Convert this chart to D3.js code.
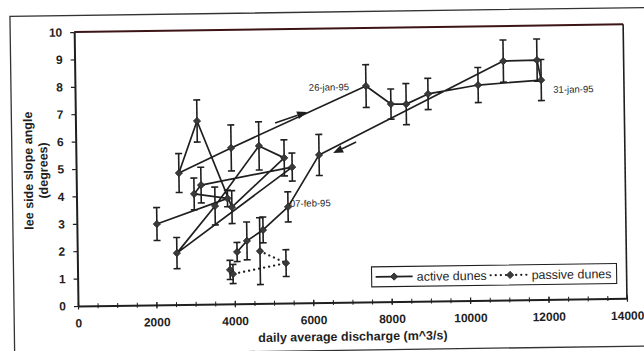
<!DOCTYPE html>
<html>
<head>
<meta charset="utf-8">
<script src="https://cdn.jsdelivr.net/npm/d3@7"></script>
<style>
  html, body { margin: 0; padding: 0; background: #fff; }
  svg { display: block; }
  text { font-family: "Liberation Sans", Arial, sans-serif; }
</style>
</head>
<body>
<svg id="chart" width="644" height="351"></svg>
<script>
// Active dunes, in measurement order: discharge (m^3/s), lee side angle and error (degrees)
const activeDischarge = [2040, 3850, 3000, 3180, 5510, 2540, 3530, 4670, 5310, 3960, 3100, 2620, 3960,
                         7420, 8050, 8440, 9000, 10280, 11890, 11790, 10930, 6200, 5390, 4745, 4330, 4075];
const activeAngle = [2.95, 3.85, 4.03, 4.35, 4.96, 1.88, 3.58, 5.75, 5.30, 3.53, 6.69, 4.80, 5.69,
                     7.88, 7.21, 7.20, 7.56, 7.86, 8.01, 8.74, 8.72, 5.39, 3.51, 2.68, 2.29, 1.89];
const activeError = [0.60, 0.30, 0.58, 0.65, 0.51, 0.57, 0.69, 0.88, 0.66, 0.60, 0.77, 0.71, 0.84,
                     0.78, 0.55, 0.75, 0.57, 0.64, 0.75, 0.77, 0.77, 0.75, 0.55, 0.47, 0.69, 0.35];

// Passive dunes
const passiveDischarge = [4660, 5320, 3965, 3890];
const passiveAngle = [1.91, 1.46, 1.09, 1.24];
const passiveError = [1.22, 0.49, 0.35, 0.35];

// Dated observations (index into the active series)
const dateIndex = [13, 18, 22];
const dateText = ["26-jan-95", "31-jan-95", "07-feb-95"];

// Direction arrows along the hysteresis loop: [discharge, angle] start and end
const arrowStart = [[5090, 6.58], [7150, 5.84]];
const arrowEnd = [[5910, 6.96], [6560, 5.45]];

// Axis ticks
const xTickValues = [0, 2000, 4000, 6000, 8000, 10000, 12000, 14000];
const yTickValues = [0, 1, 2, 3, 4, 5, 6, 7, 8, 9, 10];

const active = activeDischarge.map((q, i) => ({ q, a: activeAngle[i], e: activeError[i] }));
const passive = passiveDischarge.map((q, i) => ({ q, a: passiveAngle[i], e: passiveError[i] }));

const svg = d3.select("#chart");
const ink = "#1f1f1f";

// the page is slightly tilted
const root = svg.append("g").attr("transform", "rotate(-0.8,78,306)");

// outer figure frame
root.append("path")
  .attr("d", "M14,370 L14,15.5 L680,15.5")
  .attr("fill", "none").attr("stroke", "#333").attr("stroke-width", 1.3);
root.append("line")
  .attr("x1", 14).attr("x2", 680).attr("y1", 354).attr("y2", 354)
  .attr("stroke", "#333").attr("stroke-width", 1.3);

const x = d3.scaleLinear().domain([0, 14000]).range([78, 627]);
const y = d3.scaleLinear().domain([0, 10]).range([306, 32]);

// plot frame: top and right
root.append("line")
  .attr("x1", x(0)).attr("x2", x(14000)).attr("y1", y(10)).attr("y2", y(10))
  .attr("stroke", "#3d1416").attr("stroke-width", 2);
root.append("line")
  .attr("x1", x(14000)).attr("x2", x(14000)).attr("y1", y(10)).attr("y2", y(0))
  .attr("stroke", ink).attr("stroke-width", 1.6);

// x axis minor ticks
const xMinor = root.append("g").attr("transform", `translate(0,${y(0)})`)
  .call(d3.axisBottom(x).tickValues(d3.range(0, 14001, 500)).tickSize(3).tickFormat(""));
xMinor.select(".domain").remove();
xMinor.selectAll(".tick line").attr("y1", -2.5).attr("y2", 2.5).attr("stroke", ink).attr("stroke-width", 1);

// x axis
const xAxis = root.append("g").attr("transform", `translate(0,${y(0)})`)
  .call(d3.axisBottom(x).tickValues(xTickValues).tickSize(4).tickPadding(9).tickSizeOuter(0)
    .tickFormat(d3.format("d")));
xAxis.select(".domain").attr("stroke", ink).attr("stroke-width", 2);
xAxis.selectAll(".tick line").attr("y1", -3).attr("y2", 3.5).attr("stroke", ink).attr("stroke-width", 1.2);
xAxis.selectAll(".tick text")
  .attr("font-size", 12).attr("font-weight", "bold").attr("fill", ink)
  .attr("font-family", "Liberation Sans, Arial, sans-serif");

// y axis
const yAxis = root.append("g").attr("transform", `translate(${x(0)},0)`)
  .call(d3.axisLeft(y).tickValues(yTickValues).tickSize(4).tickPadding(8).tickSizeOuter(0)
    .tickFormat(d3.format("d")));
yAxis.select(".domain").attr("stroke", ink).attr("stroke-width", 2);
yAxis.selectAll(".tick line").attr("stroke", ink).attr("stroke-width", 1.2);
yAxis.selectAll(".tick text")
  .attr("font-size", 12).attr("font-weight", "bold").attr("fill", ink)
  .attr("font-family", "Liberation Sans, Arial, sans-serif");

// axis titles
root.append("text")
  .attr("x", (x(0) + x(14000)) / 2).attr("y", 344.5)
  .attr("text-anchor", "middle").attr("font-size", 12.5).attr("font-weight", "bold").attr("fill", ink)
  .text("daily average discharge (m^3/s)");
const yTitle = root.append("text")
  .attr("transform", "translate(34.5,170) rotate(-90)")
  .attr("text-anchor", "middle").attr("font-size", 12.5).attr("font-weight", "bold").attr("fill", ink);
yTitle.append("tspan").attr("x", 0).attr("y", 0).text("lee side slope angle");
yTitle.append("tspan").attr("x", 0).attr("y", 15).text("(degrees)");

const plot = root.append("g");

// connecting lines
const line = d3.line().x(d => x(d.q)).y(d => y(d.a));
plot.append("path").datum(active)
  .attr("d", line).attr("fill", "none").attr("stroke", ink).attr("stroke-width", 1.7)
  .attr("stroke-linejoin", "round");
plot.append("path").datum(passive)
  .attr("d", line).attr("fill", "none").attr("stroke", ink).attr("stroke-width", 2.2)
  .attr("stroke-dasharray", "0.1,5").attr("stroke-linecap", "round");

// error bars
function errorBars(data) {
  const g = plot.append("g").attr("stroke", ink).attr("stroke-width", 1.6);
  g.selectAll(".bar").data(data).join("line")
    .attr("x1", d => x(d.q)).attr("x2", d => x(d.q))
    .attr("y1", d => y(d.a + d.e)).attr("y2", d => y(d.a - d.e));
  ["+", "-"].forEach(s => {
    g.selectAll(".cap" + (s === "+" ? "t" : "b")).data(data).join("line")
      .attr("x1", d => x(d.q) - 3.5).attr("x2", d => x(d.q) + 3.5)
      .attr("y1", d => y(s === "+" ? d.a + d.e : d.a - d.e))
      .attr("y2", d => y(s === "+" ? d.a + d.e : d.a - d.e));
  });
}
errorBars(active);
errorBars(passive);

// diamond markers
const diamond = d3.symbol().type(d3.symbolSquare).size(26);
function markers(data) {
  plot.append("g").selectAll("path").data(data).join("path")
    .attr("d", diamond)
    .attr("transform", d => `translate(${x(d.q)},${y(d.a)}) rotate(45)`)
    .attr("fill", "#3a3a3a").attr("stroke", "#222").attr("stroke-width", 0.8);
}
markers(active);
markers(passive);

// date annotations
const dateOffset = [[-17, 4], [12, 13], [2, 0]];
const dateAnchor = ["end", "start", "start"];
dateIndex.forEach((idx, k) => {
  const d = active[idx];
  plot.append("text")
    .attr("x", x(d.q) + dateOffset[k][0]).attr("y", y(d.a) + dateOffset[k][1])
    .attr("text-anchor", dateAnchor[k])
    .attr("font-size", 9.5).attr("fill", ink)
    .text(dateText[k]);
});

// direction arrows
arrowStart.forEach((s, k) => {
  const e = arrowEnd[k];
  const x0 = x(s[0]), y0 = y(s[1]), x1 = x(e[0]), y1 = y(e[1]);
  const ang = Math.atan2(y1 - y0, x1 - x0);
  const len = 10, half = 4;
  const bx = x1 - len * Math.cos(ang), by = y1 - len * Math.sin(ang);
  plot.append("line")
    .attr("x1", x0).attr("y1", y0).attr("x2", bx).attr("y2", by)
    .attr("stroke", ink).attr("stroke-width", 1.6);
  const pts = [
    [x1, y1],
    [bx + half * Math.sin(ang), by - half * Math.cos(ang)],
    [bx - half * Math.sin(ang), by + half * Math.cos(ang)]
  ];
  plot.append("path").attr("d", "M" + pts.map(p => p.join(",")).join("L") + "Z").attr("fill", ink);
});

// legend
const lg = root.append("g");
lg.append("rect").attr("x", 372).attr("y", 271).attr("width", 245).attr("height", 20)
  .attr("fill", "#fff").attr("stroke", ink).attr("stroke-width", 1.1);
lg.append("line").attr("x1", 376).attr("x2", 413).attr("y1", 281).attr("y2", 281)
  .attr("stroke", ink).attr("stroke-width", 1.6);
lg.append("path").attr("d", diamond).attr("transform", "translate(394.5,281) rotate(45)")
  .attr("fill", "#3a3a3a").attr("stroke", "#222").attr("stroke-width", 0.8);
lg.append("text").attr("x", 417).attr("y", 285.5).attr("font-size", 12.5).attr("fill", ink)
  .text("active dunes");
lg.append("line").attr("x1", 491).attr("x2", 530).attr("y1", 281).attr("y2", 281)
  .attr("stroke", ink).attr("stroke-width", 2.2)
  .attr("stroke-dasharray", "0.1,5").attr("stroke-linecap", "round");
lg.append("path").attr("d", diamond).attr("transform", "translate(510.5,281) rotate(45)")
  .attr("fill", "#3a3a3a").attr("stroke", "#222").attr("stroke-width", 0.8);
lg.append("text").attr("x", 532).attr("y", 285.5).attr("font-size", 12.5).attr("fill", ink)
  .text("passive dunes");
</script>
</body>
</html>
